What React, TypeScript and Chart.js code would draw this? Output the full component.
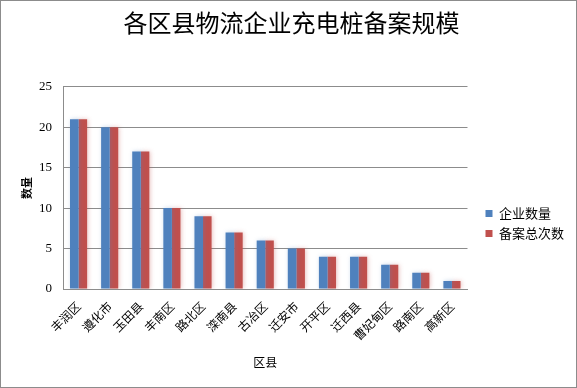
import React, { useEffect, useRef } from "react";
import { Chart, registerables } from "chart.js";

Chart.register(...registerables);

const categories = ["丰润区", "遵化市", "玉田县", "丰南区", "路北区", "滦南县", "古冶区", "迁安市", "开平区", "迁西县", "曹妃甸区", "路南区", "高新区"];
const enterpriseCount = [21, 20, 17, 10, 9, 7, 6, 5, 4, 4, 3, 2, 1];
const filingCount = [21, 20, 17, 10, 9, 7, 6, 5, 4, 4, 3, 2, 1];
const seriesNames = ["企业数量", "备案总次数"];
const yTicks = [0, 5, 10, 15, 20, 25];
const seriesColors = ["#4F81BD", "#C0504D"];
const glowColors = ["rgba(79,129,189,0.35)", "rgba(192,80,77,0.35)"];

const CJK = "'Noto Sans CJK SC', 'Noto Sans', sans-serif";
const SERIF = "'Liberation Serif', 'DejaVu Serif', serif";

const frame = {
  id: "frame",
  beforeDraw(chart: any) {
    const { ctx, width, height } = chart;
    ctx.save();
    ctx.fillStyle = "#ffffff";
    ctx.fillRect(0, 0, width, height);
    ctx.strokeStyle = "#8c8c8c";
    ctx.lineWidth = 1;
    ctx.strokeRect(0.5, 0.5, width - 1, height - 1);
    ctx.restore();
  },
};

const glow = {
  id: "glow",
  beforeDatasetDraw(chart: any, args: any) {
    const ctx = chart.ctx;
    ctx.save();
    ctx.shadowColor = glowColors[args.index] || "rgba(0,0,0,0.2)";
    ctx.shadowBlur = 4;
    ctx.shadowOffsetX = 1;
    ctx.shadowOffsetY = 0;
  },
  afterDatasetDraw(chart: any) {
    chart.ctx.restore();
  },
};

const legendPlace = {
  id: "legendPlace",
  afterLayout(chart: any) {
    const lg = chart.legend;
    if (!lg) return;
    const dx = chart.chartArea.right + 11 - lg.left;
    lg.left += dx;
    lg.right += dx;
    const h = lg.bottom - lg.top;
    lg.top = 200;
    lg.bottom = 200 + h;
  },
};

export default function App() {
  const ref = useRef<HTMLCanvasElement>(null);
  useEffect(() => {
    document.body.style.margin = "0";
    const chart = new Chart(ref.current!, {
      type: "bar",
      data: {
        labels: categories,
        datasets: [
          { label: seriesNames[0], data: enterpriseCount, backgroundColor: seriesColors[0], categoryPercentage: 0.55, barPercentage: 1 },
          { label: seriesNames[1], data: filingCount, backgroundColor: seriesColors[1], categoryPercentage: 0.55, barPercentage: 1 },
        ],
      },
      options: {
        responsive: false,
        animation: false,
        layout: { padding: { left: 20, right: 14, bottom: 18, top: 0 } },
        plugins: {
          tooltip: { enabled: false },
          title: {
            display: true,
            text: "各区县物流企业充电桩备案规模",
            color: "#000",
            font: { family: CJK, size: 24, weight: "normal" },
            padding: { top: 8, bottom: 50 },
          },
          legend: {
            position: "right",
            align: "start",
            labels: {
              boxWidth: 7,
              boxHeight: 7,
              color: "#000",
              font: { family: CJK, size: 13 },
              padding: 7,
            },
          },
        },
        scales: {
          x: {
            afterFit(scale: any) {
              scale.height = 81;
            },
            grid: { display: false, drawTicks: false },
            border: { color: "#8c8c8c" },
            ticks: { minRotation: 45, maxRotation: 45, color: "#000", font: { family: CJK, size: 12 }, padding: 10 },
            title: { display: true, text: "区县", color: "#000", font: { family: CJK, size: 12 }, padding: { top: 0, bottom: 0 } },
          },
          y: {
            min: 0,
            max: 25,
            afterBuildTicks(scale: any) {
              scale.ticks = yTicks.map((v) => ({ value: v }));
            },
            afterFit(scale: any) {
              scale.width = 43;
            },
            grid: { color: "#8c8c8c", drawTicks: false },
            border: { color: "#8c8c8c" },
            ticks: { color: "#000", font: { family: SERIF, size: 13 }, padding: 11 },
            title: { display: true, text: "数量", color: "#000", font: { family: CJK, size: 11, weight: "bold" }, padding: { top: 0, bottom: 0 } },
          },
        },
      },
      plugins: [frame, glow, legendPlace],
    });
    return () => chart.destroy();
  }, []);
  return <canvas ref={ref} width={577} height={388} style={{ display: "block" }} />;
}
